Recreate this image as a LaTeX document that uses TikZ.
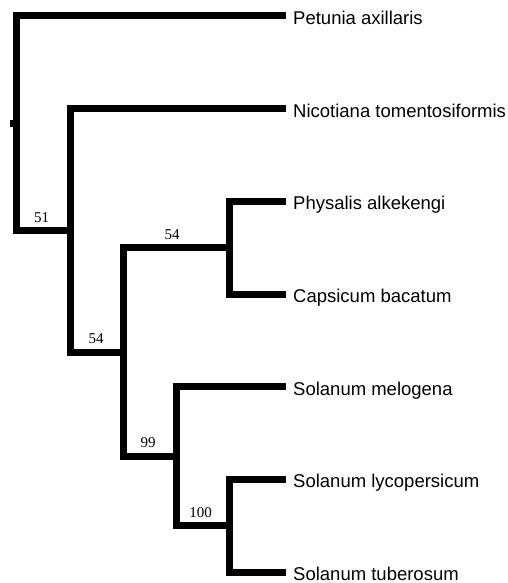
\documentclass[tikz,border=0pt]{standalone}
\usepackage{fontspec}
\setmainfont{Liberation Serif}
\newfontfamily\leaffont{Liberation Sans}
\begin{document}
\begin{tikzpicture}[x=1pt,y=-1pt,
  branch/.style={line width=7pt,line join=miter,line cap=butt},
  taxon/.style={anchor=base west,inner sep=0pt,font=\leaffont\fontsize{18.5}{20}\selectfont},
  support/.style={anchor=south,inner sep=0pt,font=\fontsize{15}{17}\selectfont}]
\useasboundingbox (0,0) rectangle (507,583);
% leaf tips
\coordinate (tPet) at (286,16);
\coordinate (tNic) at (286,108.7);
\coordinate (tPhy) at (286,201.3);
\coordinate (tCap) at (286,294);
\coordinate (tMel) at (286,386.7);
\coordinate (tLyc) at (286,479.3);
\coordinate (tTub) at (286,572);
% internal nodes
\coordinate (nPC) at (229.5,247.7);
\coordinate (nLT) at (229.5,525.7);
\coordinate (nSol) at (176.5,456.2);
\coordinate (nCore) at (123,352);
\coordinate (nNic) at (70,230.3);
\coordinate (nRoot) at (16.5,123.2);
\coordinate (rootStub) at (9.5,123.2);
% branches
\draw[branch] (tPhy) -| (nPC) |- (tCap);
\draw[branch] (tLyc) -| (nLT) |- (tTub);
\draw[branch] (tMel) -| (nSol) |- (nLT);
\draw[branch] (nPC) -| (nCore) |- (nSol);
\draw[branch] (tNic) -| (nNic) |- (nCore);
\draw[branch] (tPet) -| (nRoot) |- (nNic);
\draw[branch] (nRoot) -- (rootStub);
% taxa
\node[taxon] (lPet) at (293,24.5) {Petunia axillaris};
\node[taxon] (lNic) at (293,117.2) {Nicotiana tomentosiformis};
\node[taxon] (lPhy) at (293,209.8) {Physalis alkekengi};
\node[taxon] (lCap) at (293,302.5) {Capsicum bacatum};
\node[taxon] (lMel) at (293,395.2) {Solanum melogena};
\node[taxon] (lLyc) at (293,487.8) {Solanum lycopersicum};
\node[taxon] (lTub) at (293,580.5) {Solanum tuberosum};
% support values
\node[support] (s51) at (41.5,223) {51};
\node[support] (s54a) at (172,239.5) {54};
\node[support] (s54b) at (96,343.5) {54};
\node[support] (s99) at (148,448) {99};
\node[support] (s100) at (200.5,517.5) {100};
\end{tikzpicture}
\end{document}
